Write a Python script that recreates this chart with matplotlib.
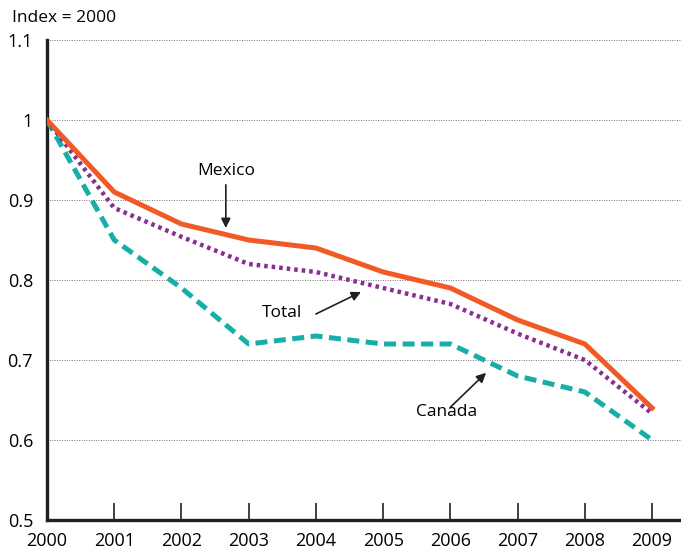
import numpy as np
import matplotlib
import matplotlib.pyplot as plt
matplotlib.use('Agg')

plt.rcParams['font.family'] = ['Open Sans', 'DejaVu Sans']

# Index values (2000 = 1)
years = [2000, 2001, 2002, 2003, 2004, 2005, 2006, 2007, 2008, 2009]
mexico = [1.0, 0.91, 0.87, 0.85, 0.84, 0.81, 0.79, 0.75, 0.72, 0.64]
total = [1.0, 0.89, 0.854, 0.82, 0.81, 0.79, 0.77, 0.733, 0.70, 0.633]
canada = [1.0, 0.85, 0.79, 0.72, 0.73, 0.72, 0.72, 0.68, 0.66, 0.60]
y_ticks = [0.5, 0.6, 0.7, 0.8, 0.9, 1.0, 1.1]
y_labels = ['0.5', '0.6', '0.7', '0.8', '0.9', '1', '1.1']

fig = plt.figure(figsize=(6.81, 5.52), dpi=100)
ax = fig.add_axes([0.069, 0.058, 0.931, 0.8695])

# gridlines
for y in y_ticks[1:]:
    ax.axhline(y, color='#777777', lw=0.7, ls=(0, (1, 1.5)), zorder=1)

ax.plot(years, canada, color='#17AEA8', lw=3.6, ls=(0, (2.4, 1.3)), zorder=3)
ax.plot(years, total, color='#8A2E93', lw=3.2, ls=(0, (0.8, 0.9)), zorder=4)
ax.plot(years, mexico, color='#F15A24', lw=3.6, zorder=5)

ax.set_xlim(2000, 2009.43)
ax.set_ylim(0.5, 1.1)
ax.set_xticks(years)
ax.set_xticklabels([str(y) for y in years], fontsize=13)
ax.set_yticks(y_ticks)
ax.set_yticklabels(y_labels, fontsize=13)
ax.tick_params(axis='x', direction='in', length=12, width=1.2, pad=9, color='#231F20')
ax.tick_params(axis='y', length=0, pad=10)

for s in ['top', 'right']:
    ax.spines[s].set_visible(False)
for s in ['left', 'bottom']:
    ax.spines[s].set_linewidth(2.4)
    ax.spines[s].set_color('#231F20')

arrow = dict(arrowstyle='-|>', color='#231F20', lw=1.2, mutation_scale=14, shrinkA=0, shrinkB=0)
ax.annotate('', xy=(2002.66, 0.865), xytext=(2002.66, 0.919), arrowprops=arrow)
ax.text(2002.66, 0.936, 'Mexico', ha='center', va='center', fontsize=12.5)
ax.annotate('', xy=(2004.67, 0.785), xytext=(2004.0, 0.7575), arrowprops=arrow)
ax.text(2003.5, 0.759, 'Total', ha='center', va='center', fontsize=12.5)
ax.annotate('', xy=(2006.53, 0.684), xytext=(2006.0, 0.641), arrowprops=arrow)
ax.text(2005.95, 0.6345, 'Canada', ha='center', va='center', fontsize=12.5)

fig.text(0.017, 0.967, 'Index = 2000', ha='left', va='center', fontsize=12.5)

fig.savefig('out.png', dpi=100)
